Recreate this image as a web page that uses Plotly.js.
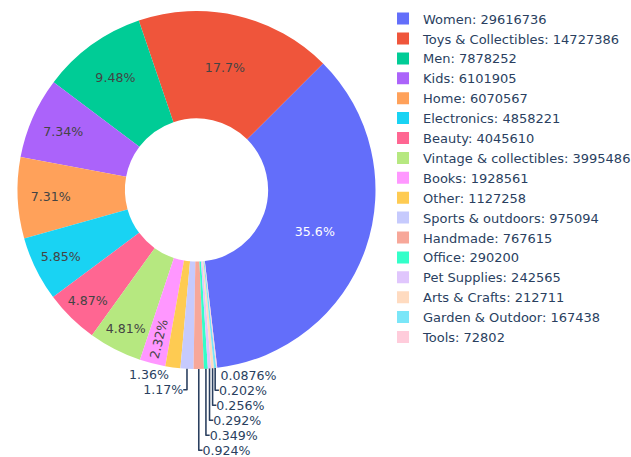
<!DOCTYPE html>
<html>
<head>
<meta charset="utf-8">
<script src="https://cdn.plot.ly/plotly-3.0.1.min.js"></script>
<style>html,body{margin:0;padding:0;background:#fff;}</style>
</head>
<body>
<div id="chart" style="width:631px;height:457px;"></div>
<script>
const categories = ["Women","Toys & Collectibles","Men","Kids","Home","Electronics","Beauty","Vintage & collectibles","Books","Other","Sports & outdoors","Handmade","Office","Pet Supplies","Arts & Crafts","Garden & Outdoor","Tools"];
const sales = [29616736,14727386,7878252,6101905,6070567,4858221,4045610,3995486,1928561,1127258,975094,767615,290200,242565,212711,167438,72802];
const palette = ["#636efa","#EF553B","#00cc96","#ab63fa","#FFA15A","#19d3f3","#FF6692","#B6E880","#FF97FF","#FECB52"];

const legendLabels = categories.map((c, i) => c + ": " + sales[i]);

Plotly.newPlot("chart", [{
  type: "pie",
  labels: legendLabels,
  values: sales,
  hole: 0.4,
  rotation: 45,
  textinfo: "percent",
  textposition: "auto",
  sort: false,
  domain: {x: [14 / 631, 379 / 631], y: [88 / 457, 1 - 11 / 457]},
  marker: {line: {color: "#ffffff", width: 0}},
  textfont: {size: 12.6}
}], {
  width: 631,
  height: 457,
  colorway: palette,
  font: {family: "'DejaVu Sans', sans-serif", size: 12.6, color: "#2a3f5f"},
  paper_bgcolor: "#ffffff",
  plot_bgcolor: "#ffffff",
  margin: {l: 0, r: 0, t: 0, b: 0, autoexpand: false},
  legend: {
    font: {size: 13},
    x: 0.607, y: 0.992, xanchor: "left", yanchor: "top"
  }
}, {displayModeBar: false});
</script>
</body>
</html>
